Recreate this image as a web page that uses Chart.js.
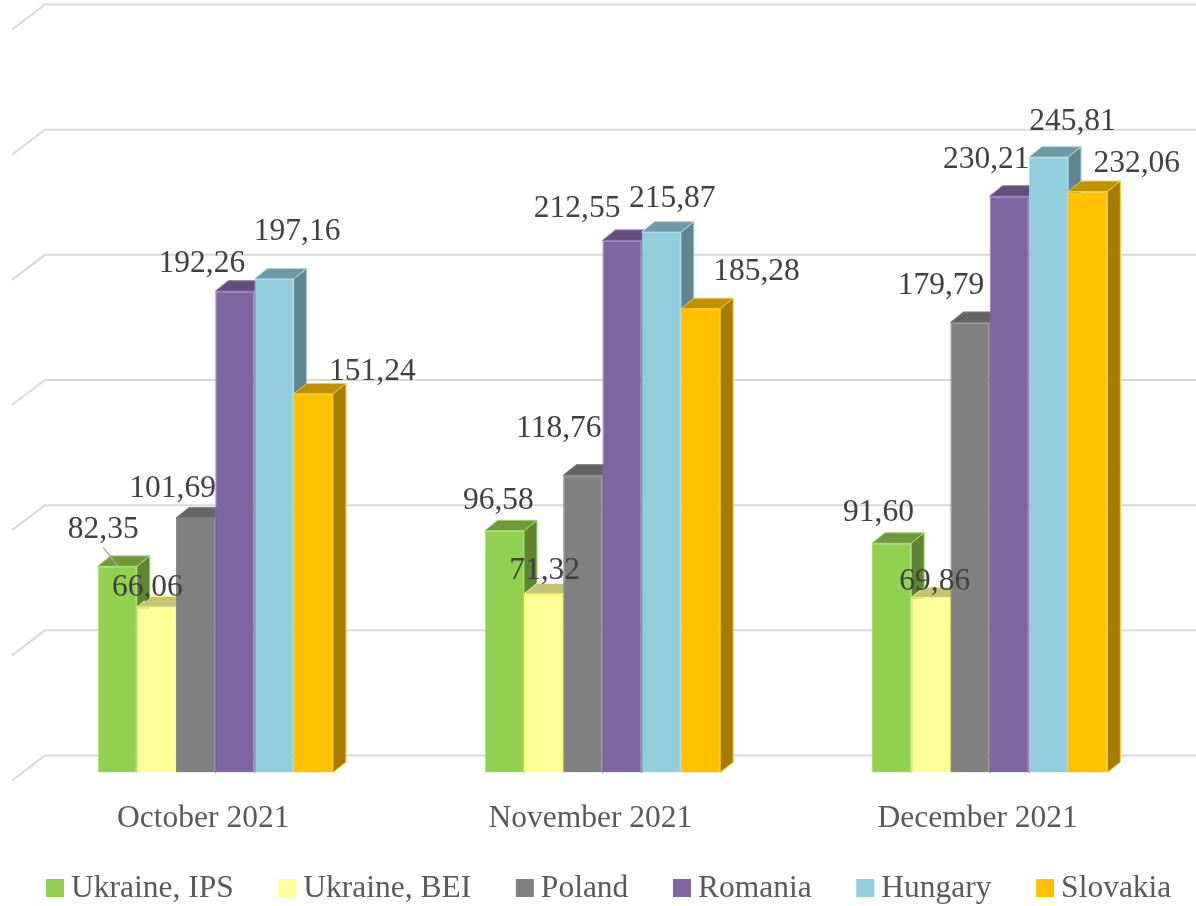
<!DOCTYPE html>
<html>
<head>
<meta charset="utf-8">
<script src="https://cdn.jsdelivr.net/npm/chart.js@4"></script>
<style>
  html, body { margin: 0; padding: 0; background: #fff; }
  canvas { display: block; }
</style>
</head>
<body>
<canvas id="chart" width="1196" height="906"></canvas>
<script>
const months = ["October 2021", "November 2021", "December 2021"];
const ukraineIps = [82.35, 96.58, 91.60];
const ukraineBei = [66.06, 71.32, 69.86];
const poland = [101.69, 118.76, 179.79];
const romania = [192.26, 212.55, 230.21];
const hungary = [197.16, 215.87, 245.81];
const slovakia = [151.24, 185.28, 232.06];

const seriesNames = ["Ukraine, IPS", "Ukraine, BEI", "Poland", "Romania", "Hungary", "Slovakia"];
const seriesValues = [ukraineIps, ukraineBei, poland, romania, hungary, slovakia];

// frente, borde, lateral y tapa de cada serie
const fronts = ["#92D050", "#FFFF99", "#808080", "#8064A2", "#92CDDC", "#FFC000"];
const borders = ["#A6DC70", "#FFFF66", "#808080", "#9079B0", "#A8DCE8", "#FFCC22"];
const sides = ["#5E8533", "#A6A663", "#535353", "#534169", "#5F858F", "#A67C00"];
const tops = ["#70983C", "#C4C474", "#636363", "#624D7D", "#7099A5", "#BF9000"];

// desplazamiento de cada etiqueta respecto a la cima de su barra
const labelOffsets = [
    [[-14, -37], [-6, -30], [-13, -30]],
    [[-9, -19], [1, -23], [4, -16]],
    [[-23, -29], [-24, -46], [-29, -37]],
    [[-33, -27], [-45, -32], [-23, -36]],
    [[23, -47], [11, -33], [24, -35]],
    [[59, -22], [56, -37], [49, -28]]
];

const serif = '"Liberation Serif", "Times New Roman", serif';
const depthX = 13;
const depthY = 10.5;

function fillShape(ctx, points, fill, stroke) {
    ctx.beginPath();
    points.forEach((p, i) => i ? ctx.lineTo(p[0], p[1]) : ctx.moveTo(p[0], p[1]));
    ctx.closePath();
    ctx.fillStyle = fill;
    ctx.fill();
    ctx.strokeStyle = stroke;
    ctx.lineWidth = 1;
    ctx.stroke();
}

// Paredes del fondo: líneas de la escala y con su diagonal
const wallPlugin = {
    id: "wall",
    beforeDatasetsDraw(chart) {
        const ctx = chart.ctx;
        const y = chart.scales.y;
        ctx.save();
        ctx.strokeStyle = "#D9D9D9";
        ctx.lineWidth = 2;
        y.ticks.forEach(tick => {
            const back = y.getPixelForValue(tick.value) - 17;
            ctx.beginPath();
            ctx.moveTo(12, back + 25);
            ctx.lineTo(45, back);
            ctx.lineTo(chart.width, back);
            ctx.stroke();
        });
        ctx.restore();
    }
};

// Lateral y tapa de cada barra, de izquierda a derecha, debajo de los frentes
const depthPlugin = {
    id: "depth",
    beforeDatasetsDraw(chart) {
        const ctx = chart.ctx;
        ctx.save();
        chart.data.datasets.forEach((ds, s) => {
            chart.getDatasetMeta(s).data.forEach(bar => {
                const l = bar.x - bar.width / 2;
                const r = bar.x + bar.width / 2;
                fillShape(ctx, [[r, bar.y], [r + depthX, bar.y - depthY], [r + depthX, bar.base - depthY], [r, bar.base]], sides[s], borders[s]);
                fillShape(ctx, [[l, bar.y], [l + depthX, bar.y - depthY], [r + depthX, bar.y - depthY], [r, bar.y]], tops[s], borders[s]);
            });
        });
        ctx.restore();
    }
};

// Etiquetas de valor con coma decimal y la línea guía de la primera
const labelPlugin = {
    id: "valueLabels",
    afterDatasetsDraw(chart) {
        const ctx = chart.ctx;
        ctx.save();
        const first = chart.getDatasetMeta(0).data[0];
        ctx.strokeStyle = "#A6A6A6";
        ctx.lineWidth = 1.5;
        ctx.beginPath();
        ctx.moveTo(first.x - 14, first.y - 19);
        ctx.lineTo(first.x + 1, first.y);
        ctx.stroke();

        ctx.font = "31.5px " + serif;
        ctx.fillStyle = "#404040";
        ctx.textAlign = "center";
        ctx.textBaseline = "middle";
        chart.data.datasets.forEach((ds, s) => {
            chart.getDatasetMeta(s).data.forEach((bar, i) => {
                const off = labelOffsets[s][i];
                ctx.fillText(ds.data[i].toFixed(2).replace(".", ","), bar.x + off[0], bar.y + off[1]);
            });
        });
        ctx.restore();
    }
};

// Leyenda con el cuadro pegado al texto
const legendPlugin = {
    id: "bottomLegend",
    afterDraw(chart) {
        const ctx = chart.ctx;
        ctx.save();
        ctx.font = "31.5px " + serif;
        ctx.textBaseline = "middle";
        let x = 46;
        chart.data.datasets.forEach((ds, s) => {
            ctx.fillStyle = fronts[s];
            ctx.fillRect(x, 879, 18, 18);
            ctx.fillStyle = "#595959";
            ctx.fillText(ds.label, x + 25, 889);
            x += 25 + ctx.measureText(ds.label).width + 44.6;
        });
        ctx.restore();
    }
};

new Chart(document.getElementById("chart").getContext("2d"), {
    type: "bar",
    data: {
        labels: months,
        datasets: seriesNames.map((name, s) => ({
            label: name,
            data: seriesValues[s],
            backgroundColor: fronts[s],
            borderColor: borders[s],
            borderWidth: 1,
            barPercentage: 1,
            categoryPercentage: 0.608
        }))
    },
    options: {
        responsive: false,
        animation: false,
        layout: { padding: { left: 21.7, right: 12.8, top: 21.5, bottom: 0 } },
        plugins: {
            legend: { display: false },
            tooltip: { enabled: false }
        },
        scales: {
            x: {
                grid: { display: false },
                border: { display: false },
                afterFit(scale) { scale.height = 133.5; },
                ticks: {
                    color: "#595959",
                    font: { family: serif, size: 31.5 },
                    padding: 19,
                    labelOffset: -12,
                    maxRotation: 0
                }
            },
            y: {
                min: 0,
                max: 300,
                afterFit(scale) { scale.width = 0; },
                grid: { display: false },
                border: { display: false },
                ticks: { display: false, stepSize: 50 }
            }
        }
    },
    plugins: [wallPlugin, depthPlugin, labelPlugin, legendPlugin]
});
</script>
</body>
</html>
